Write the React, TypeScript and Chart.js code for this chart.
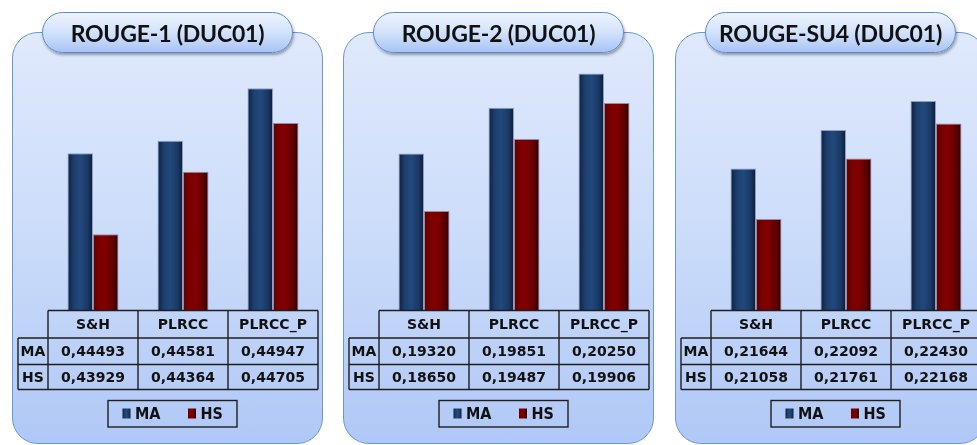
import React, { useEffect, useRef } from "react";
import { Chart, registerables } from "chart.js";

Chart.register(...registerables);

const categories = ["S&H", "PLRCC", "PLRCC_P"];
const seriesNames = ["MA", "HS"];
const titles = ["ROUGE-1 (DUC01)", "ROUGE-2 (DUC01)", "ROUGE-SU4 (DUC01)"];

const rouge1MA = [0.44493, 0.44581, 0.44947];
const rouge1HS = [0.43929, 0.44364, 0.44705];
const rouge2MA = [0.1932, 0.19851, 0.2025];
const rouge2HS = [0.1865, 0.19487, 0.19906];
const rougeSU4MA = [0.21644, 0.22092, 0.2243];
const rougeSU4HS = [0.21058, 0.21761, 0.22168];

const axisMins = [0.434, 0.175, 0.2];
const axisMaxs = [0.452, 0.205, 0.23];

const panelSeries = [
  [rouge1MA, rouge1HS],
  [rouge2MA, rouge2HS],
  [rougeSU4MA, rougeSU4HS],
];

const panelLefts = [12, 343, 675];
const PANEL_W = 311;
const CAT_PCT = 0.567;
const TABLE_FONT = 'bold 14px "DejaVu Sans", sans-serif';
const LEGEND_FONT = 'bold 16px "DejaVu Sans Condensed", "DejaVu Sans", sans-serif';

function addStops(g: CanvasGradient, kind: number) {
  if (kind === 0) {
    g.addColorStop(0, "#0e203c");
    g.addColorStop(0.25, "#1c3f6e");
    g.addColorStop(0.5, "#22497c");
    g.addColorStop(0.8, "#193864");
    g.addColorStop(1, "#0c1a33");
  } else {
    g.addColorStop(0, "#5c0000");
    g.addColorStop(0.25, "#7c0000");
    g.addColorStop(0.5, "#800000");
    g.addColorStop(0.8, "#5e0000");
    g.addColorStop(1, "#2c0000");
  }
}

function barFill(kind: number) {
  return (c: any) => {
    const chart = c.chart;
    const ca = chart.chartArea;
    const xs = chart.scales && chart.scales.x;
    if (!ca || !xs || c.dataIndex === undefined) return kind === 0 ? "#1f4577" : "#7f0000";
    const n = chart.data.labels.length;
    const catW = ca.width / n;
    const groupW = catW * CAT_PCT;
    const barW = groupW / 2;
    const left = xs.getPixelForValue(c.dataIndex) - groupW / 2 + c.datasetIndex * barW;
    const g = chart.ctx.createLinearGradient(left, 0, left + barW, 0);
    addStops(g, kind);
    return g;
  };
}

const fmt = (v: number) => v.toFixed(5).replace(".", ",");

const tablePlugin = {
  id: "dataTable",
  afterDraw(chart: any) {
    const ctx = chart.ctx as CanvasRenderingContext2D;
    const ca = chart.chartArea;
    const xs = chart.scales.x;
    const labels: string[] = chart.data.labels;
    const n = labels.length;
    const catW = ca.width / n;
    const labelW = 30;
    const top = ca.bottom + 0.5;
    const rowH = [27.5, 26.5, 25];
    const y1 = top + rowH[0];
    const y2 = y1 + rowH[1];
    const y3 = y2 + rowH[2];
    const left = ca.left;
    const right = ca.right;

    ctx.save();
    ctx.strokeStyle = "#1e1e1e";
    ctx.lineWidth = 1.4;
    ctx.beginPath();
    ctx.moveTo(left, top);
    ctx.lineTo(right, top);
    ctx.moveTo(left - labelW, y1);
    ctx.lineTo(right, y1);
    ctx.moveTo(left - labelW, y2);
    ctx.lineTo(right, y2);
    ctx.moveTo(left - labelW, y3);
    ctx.lineTo(right, y3);
    ctx.moveTo(left - labelW, y1);
    ctx.lineTo(left - labelW, y3);
    for (let i = 0; i <= n; i++) {
      const x = left + i * catW;
      ctx.moveTo(x, top);
      ctx.lineTo(x, y3);
    }
    ctx.stroke();

    ctx.fillStyle = "#111";
    ctx.font = TABLE_FONT;
    ctx.textAlign = "center";
    ctx.textBaseline = "middle";
    for (let i = 0; i < n; i++) {
      const cx = xs.getPixelForValue(i);
      ctx.fillText(labels[i], cx, (top + y1) / 2 + 1);
      chart.data.datasets.forEach((ds: any, di: number) => {
        const ry = di === 0 ? (y1 + y2) / 2 + 1 : (y2 + y3) / 2 + 1;
        ctx.fillText(fmt(ds.data[i]), cx, ry);
      });
    }
    chart.data.datasets.forEach((ds: any, di: number) => {
      const ry = di === 0 ? (y1 + y2) / 2 + 1 : (y2 + y3) / 2 + 1;
      ctx.fillText(ds.label, left - labelW / 2, ry);
    });

    const lx = left + 60;
    const ly = ca.bottom + 90.5;
    const lw = 129;
    const lh = 26.5;
    ctx.strokeRect(lx, ly, lw, lh);
    ctx.font = LEGEND_FONT;
    ctx.textAlign = "left";
    const offsets = [14.5, 80];
    chart.data.datasets.forEach((ds: any, di: number) => {
      const mx = lx + offsets[di];
      const my = ly + 8;
      const g = ctx.createLinearGradient(mx, 0, mx + 8, 0);
      addStops(g, di);
      ctx.fillStyle = g;
      ctx.fillRect(mx, my, 8, 10);
      ctx.fillStyle = "#111";
      ctx.fillText(ds.label, mx + 12.5, ly + lh / 2 + 1);
    });
    ctx.restore();
  },
};

function Panel({ idx }: { idx: number }) {
  const ref = useRef<HTMLCanvasElement>(null);
  useEffect(() => {
    if (!ref.current) return;
    const [ma, hs] = panelSeries[idx];
    const chart = new Chart(ref.current, {
      type: "bar",
      data: {
        labels: categories,
        datasets: [
          {
            label: seriesNames[0],
            data: ma,
            backgroundColor: barFill(0),
            borderColor: "#8f9fbf",
            borderWidth: 1,
            borderSkipped: "start",
            base: axisMins[idx],
          } as any,
          {
            label: seriesNames[1],
            data: hs,
            backgroundColor: barFill(1),
            borderColor: "#9a8aa8",
            borderWidth: 1,
            borderSkipped: "start",
            base: axisMins[idx],
          } as any,
        ],
      },
      options: {
        animation: false,
        responsive: false,
        maintainAspectRatio: false,
        devicePixelRatio: 1,
        layout: { padding: { left: 36, right: 5, top: 52, bottom: 135 } },
        datasets: { bar: { categoryPercentage: CAT_PCT, barPercentage: 1 } },
        scales: {
          x: { display: false },
          y: { display: false, min: axisMins[idx], max: axisMaxs[idx] },
        },
        plugins: {
          legend: { display: false },
          title: { display: false },
          tooltip: { enabled: false },
        },
      },
      plugins: [tablePlugin],
    });
    return () => chart.destroy();
  }, [idx]);

  const left = panelLefts[idx];
  return (
    <>
      <div
        style={{
          position: "absolute",
          left,
          top: 32,
          width: PANEL_W,
          height: 412,
          boxSizing: "border-box",
          border: "1.5px solid #6a98d4",
          borderRadius: 26,
          background: "linear-gradient(to bottom, #e0e9fc 0%, #cbdcfa 50%, #b0c8f6 100%)",
        }}
      />
      <canvas
        ref={ref}
        width={PANEL_W}
        height={445}
        style={{ position: "absolute", left, top: 0, width: PANEL_W, height: 445 }}
      />
      <div
        style={{
          position: "absolute",
          left: left + 30,
          top: 12,
          width: 251,
          height: 41,
          boxSizing: "border-box",
          border: "1.5px solid #5a8ccc",
          borderRadius: 21,
          background: "linear-gradient(to bottom, #edf3fe 0%, #d3e2fb 50%, #a8c4f4 100%)",
          boxShadow: "1px 2px 3px rgba(0,0,0,0.35)",
          display: "flex",
          alignItems: "center",
          justifyContent: "center",
          fontFamily: "Lato, sans-serif",
          fontWeight: 700,
          fontSize: 23,
          letterSpacing: -0.2,
          color: "#111",
          whiteSpace: "nowrap",
        }}
      >
        {titles[idx]}
      </div>
    </>
  );
}

export default function App() {
  return (
    <div
      style={{
        position: "absolute",
        left: 0,
        top: 0,
        width: 977,
        height: 445,
        overflow: "hidden",
        background: "#ffffff",
      }}
    >
      {[0, 1, 2].map((i) => (
        <Panel key={i} idx={i} />
      ))}
    </div>
  );
}
